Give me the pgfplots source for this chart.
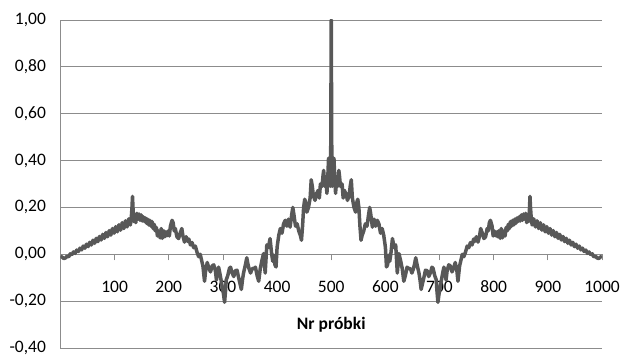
\documentclass[border=0pt]{standalone}
\usepackage{fontspec}
\setmainfont{Carlito}
\usepackage{pgfplots}
\usepackage{pgfplotstable}
\pgfplotsset{compat=1.18}
\definecolor{sig}{RGB}{88,88,88}
\definecolor{grd}{RGB}{140,140,140}
\pgfplotstableread{
n v
0 -0.008
3 -0.012
6 -0.018
9 -0.016
12 -0.008
15 -0.011
18 0.002
21 -0.002
24 0.010
27 0.004
30 0.018
33 0.012
36 0.026
39 0.019
42 0.035
45 0.026
48 0.043
51 0.033
54 0.051
57 0.040
60 0.060
63 0.047
66 0.068
69 0.054
72 0.076
75 0.061
78 0.085
81 0.068
84 0.093
87 0.075
90 0.101
93 0.082
96 0.110
99 0.090
102 0.118
105 0.096
108 0.126
111 0.103
114 0.135
117 0.110
120 0.143
123 0.117
126 0.151
129 0.125
131 0.165
132 0.200
133 0.247
134 0.190
135 0.140
137 0.170
139 0.135
141 0.175
143 0.150
145 0.172
147 0.145
149 0.168
151 0.142
153 0.160
155 0.140
157 0.155
159 0.132
161 0.150
163 0.125
165 0.145
167 0.120
169 0.140
171 0.110
173 0.128
175 0.100
177 0.115
179 0.078
181 0.100
184 0.070
186 0.110
188 0.068
191 0.100
193 0.075
195 0.095
197 0.080
199 0.100
201 0.078
203 0.120
206 0.145
208 0.135
210 0.100
212 0.110
215 0.075
218 0.067
221 0.090
224 0.110
226 0.080
229 0.052
232 0.075
235 0.055
237 0.065
240 0.040
243 0.050
246 0.028
249 0.035
252 0.010
255 -0.010
258 0.000
261 -0.030
263 -0.050
266 -0.115
268 -0.070
271 -0.035
274 -0.060
277 -0.075
280 -0.050
283 -0.045
286 -0.070
288 -0.110
290 -0.070
292 -0.055
295 -0.090
298 -0.130
301 -0.170
303 -0.205
305 -0.150
306 -0.110
309 -0.090
312 -0.060
314 -0.055
317 -0.080
320 -0.095
323 -0.070
326 -0.068
329 -0.100
331 -0.120
334 -0.150
336 -0.110
338 -0.080
341 -0.050
344 -0.015
346 -0.040
348 -0.060
351 -0.080
354 -0.060
357 -0.062
360 -0.055
363 -0.090
366 -0.115
369 -0.060
372 -0.026
375 0.003
378 -0.080
381 0.040
384 0.030
387 0.067
390 0.000
392 -0.030
394 -0.004
396 -0.045
398 -0.054
400 0.030
403 0.080
406 0.110
409 0.090
412 0.130
415 0.145
418 0.120
421 0.150
424 0.116
427 0.170
429 0.200
431 0.170
434 0.120
437 0.130
440 0.100
443 0.080
445 0.060
447 0.120
449 0.200
451 0.235
453 0.220
455 0.180
458 0.200
461 0.240
463 0.318
465 0.290
467 0.250
470 0.230
473 0.260
476 0.273
478 0.240
480 0.300
483 0.290
485 0.340
486 0.358
488 0.290
490 0.330
492 0.260
494 0.350
495 0.410
496 0.330
497 0.390
498 0.290
499 0.420
500 1.000
501 0.420
502 0.290
503 0.390
504 0.330
505 0.410
506 0.350
508 0.260
510 0.330
512 0.290
514 0.358
515 0.340
517 0.290
520 0.300
522 0.240
524 0.273
527 0.260
530 0.230
533 0.250
535 0.290
537 0.318
539 0.240
542 0.200
545 0.180
547 0.220
549 0.235
551 0.200
553 0.120
555 0.060
557 0.080
560 0.100
563 0.130
566 0.120
569 0.170
571 0.200
573 0.170
576 0.116
579 0.150
582 0.120
585 0.145
588 0.130
591 0.090
594 0.110
597 0.080
600 0.030
602 -0.054
604 -0.045
606 -0.004
608 -0.030
610 0.000
613 0.067
616 0.030
619 0.040
622 -0.080
625 0.003
628 -0.026
631 -0.060
634 -0.115
637 -0.090
640 -0.055
643 -0.062
646 -0.060
649 -0.080
652 -0.060
654 -0.040
656 -0.015
659 -0.050
662 -0.080
664 -0.110
666 -0.150
669 -0.120
671 -0.100
674 -0.068
677 -0.070
680 -0.095
683 -0.080
686 -0.055
688 -0.060
691 -0.090
694 -0.110
695 -0.150
697 -0.205
699 -0.170
702 -0.130
705 -0.090
708 -0.055
710 -0.070
712 -0.110
714 -0.070
717 -0.045
720 -0.050
723 -0.075
726 -0.060
729 -0.035
732 -0.070
734 -0.115
737 -0.050
739 -0.030
742 0.000
745 -0.010
748 0.010
751 0.035
754 0.028
757 0.050
760 0.040
763 0.065
765 0.055
768 0.075
771 0.052
774 0.080
776 0.110
779 0.090
782 0.067
785 0.075
788 0.110
790 0.100
792 0.135
794 0.145
797 0.120
799 0.078
801 0.100
803 0.080
805 0.095
807 0.075
809 0.100
812 0.068
814 0.110
816 0.070
819 0.100
821 0.078
823 0.115
825 0.100
827 0.128
829 0.110
831 0.140
833 0.120
835 0.145
837 0.125
839 0.150
841 0.132
843 0.155
845 0.140
847 0.160
849 0.142
851 0.168
853 0.145
855 0.172
857 0.150
859 0.175
861 0.135
863 0.170
865 0.140
866 0.190
867 0.247
868 0.200
869 0.165
871 0.125
874 0.151
877 0.117
880 0.143
883 0.110
886 0.135
889 0.103
892 0.126
895 0.096
898 0.118
901 0.090
904 0.110
907 0.082
910 0.101
913 0.075
916 0.093
919 0.068
922 0.085
925 0.061
928 0.076
931 0.054
934 0.068
937 0.047
940 0.060
943 0.040
946 0.051
949 0.033
952 0.043
955 0.026
958 0.035
961 0.019
964 0.026
967 0.012
970 0.018
973 0.004
976 0.010
979 -0.002
982 0.002
985 -0.011
988 -0.008
991 -0.016
994 -0.018
997 -0.012
1000 -0.008
}\sigdata
\begin{document}
\begin{tikzpicture}
\begin{axis}[name=ax, scale only axis, width=541.5pt, height=328pt,
 xmin=0, xmax=1000, ymin=-0.4, ymax=1.0,
 axis x line*=middle, axis y line*=left,
 axis line style={grd, line width=0.8pt},
 xtick={100,200,...,1000},
 xticklabels={100,200,300,400,500,600,700,800,900,1000},
 ytick={-0.4,-0.2,0,0.2,0.4,0.6,0.8,1.0},
 ymajorgrids, grid style={grd, line width=0.8pt},
 ytick style={draw=none}, xtick style={grd, line width=0.8pt},
 xtick align=outside, major tick length=6pt,
 tick label style={font=\fontsize{17.5}{20}\selectfont, text=black},
 xticklabel style={yshift=-17pt},
 yticklabel style={xshift=-11pt, /pgf/number format/.cd, fixed, fixed zerofill, precision=2, use comma, assume math mode=true},
 xlabel={\textbf{Nr próbki}},
 xlabel style={at={(axis cs:500,-0.3)}, anchor=center, font=\fontsize{17.5}{20}\selectfont},
]
\addplot[sig, line width=3.5pt, line join=round] table[x=n,y=v]{\sigdata};
\end{axis}
\pgfresetboundingbox
\path[use as bounding box] (ax.south west) ++(-60.5pt,-8pt) rectangle ++(624pt,356pt);
\end{tikzpicture}
\end{document}
